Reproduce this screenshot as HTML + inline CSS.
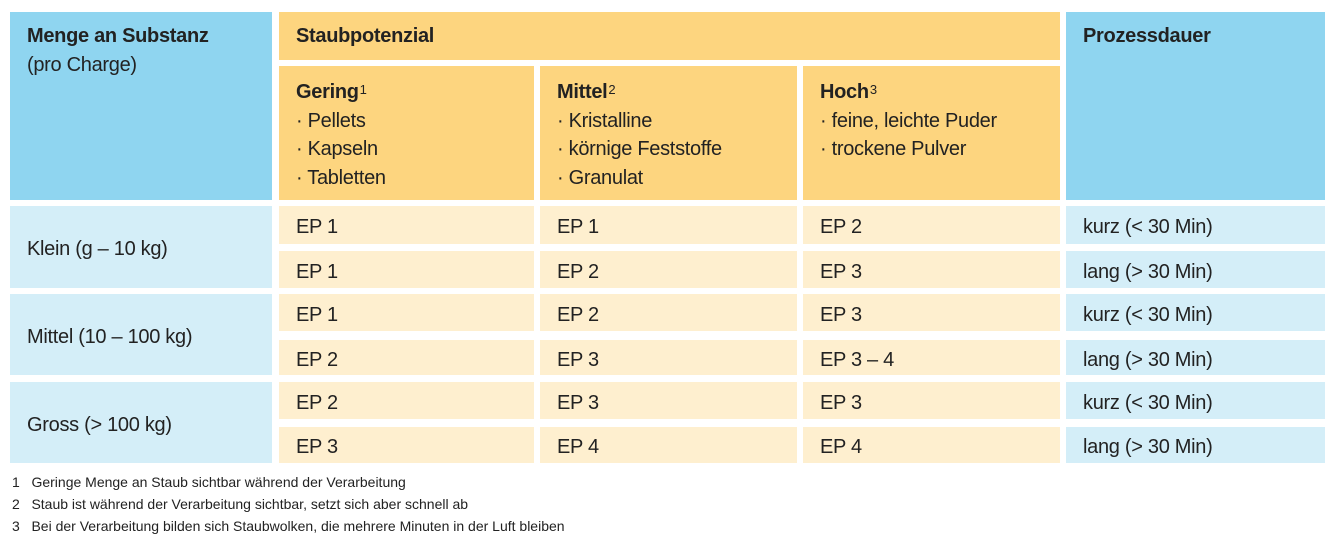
<!DOCTYPE html>
<html><head><meta charset="utf-8"><style>
body{margin:0;width:1332px;height:545px;background:#fff;position:relative;font-family:"Liberation Sans",Arial,sans-serif;color:#222;overflow:hidden}
.c{position:absolute;box-sizing:border-box;padding-left:17px;font-size:20px;letter-spacing:-0.3px}
.hb{background:#8fd5f0}.lb{background:#d4eef8}.ho{background:#fdd57f}.lo{background:#feefcf}
.v{display:flex;align-items:center;padding-top:5px}
b{font-weight:bold}
sup{font-size:13px;vertical-align:top;position:relative;top:-2px;margin-left:1px}
.h{line-height:28.5px;padding-top:12px}
.f{position:absolute;left:12px;font-size:14px;color:#222}
</style></head><body>
<div class="c hb" style="left:10px;top:12px;width:262px;height:188px;padding-top:10px;line-height:29px"><b>Menge an Substanz</b><br>(pro Charge)</div>
<div class="c ho" style="left:279px;top:12px;width:781px;height:48px;padding-top:10px;line-height:29px"><b>Staubpotenzial</b></div>
<div class="c hb" style="left:1066px;top:12px;width:259px;height:188px;padding-top:10px;line-height:29px"><b>Prozessdauer</b></div>
<div class="c ho h" style="left:279px;top:66px;width:255px;height:134px"><b>Gering</b><sup>1</sup><br>· Pellets<br>· Kapseln<br>· Tabletten</div>
<div class="c ho h" style="left:540px;top:66px;width:257px;height:134px"><b>Mittel</b><sup>2</sup><br>· Kristalline<br>· körnige Feststoffe<br>· Granulat</div>
<div class="c ho h" style="left:803px;top:66px;width:257px;height:134px"><b>Hoch</b><sup>3</sup><br>· feine, leichte Puder<br>· trockene Pulver</div>

<div class="c lb v" style="left:10px;top:206px;width:262px;height:82px">Klein (g – 10 kg)</div>
<div class="c lb v" style="left:10px;top:294px;width:262px;height:81px">Mittel (10 – 100 kg)</div>
<div class="c lb v" style="left:10px;top:382px;width:262px;height:81px">Gross (&gt; 100 kg)</div>

<div class="c lo v" style="left:279px;top:206px;width:255px;height:38px">EP 1</div>
<div class="c lo v" style="left:540px;top:206px;width:257px;height:38px">EP 1</div>
<div class="c lo v" style="left:803px;top:206px;width:257px;height:38px">EP 2</div>
<div class="c lb v" style="left:1066px;top:206px;width:259px;height:38px">kurz (&lt; 30 Min)</div>

<div class="c lo v" style="left:279px;top:251px;width:255px;height:37px">EP 1</div>
<div class="c lo v" style="left:540px;top:251px;width:257px;height:37px">EP 2</div>
<div class="c lo v" style="left:803px;top:251px;width:257px;height:37px">EP 3</div>
<div class="c lb v" style="left:1066px;top:251px;width:259px;height:37px">lang (&gt; 30 Min)</div>

<div class="c lo v" style="left:279px;top:294px;width:255px;height:37px">EP 1</div>
<div class="c lo v" style="left:540px;top:294px;width:257px;height:37px">EP 2</div>
<div class="c lo v" style="left:803px;top:294px;width:257px;height:37px">EP 3</div>
<div class="c lb v" style="left:1066px;top:294px;width:259px;height:37px">kurz (&lt; 30 Min)</div>

<div class="c lo v" style="left:279px;top:340px;width:255px;height:35px">EP 2</div>
<div class="c lo v" style="left:540px;top:340px;width:257px;height:35px">EP 3</div>
<div class="c lo v" style="left:803px;top:340px;width:257px;height:35px">EP 3 – 4</div>
<div class="c lb v" style="left:1066px;top:340px;width:259px;height:35px">lang (&gt; 30 Min)</div>

<div class="c lo v" style="left:279px;top:382px;width:255px;height:37px">EP 2</div>
<div class="c lo v" style="left:540px;top:382px;width:257px;height:37px">EP 3</div>
<div class="c lo v" style="left:803px;top:382px;width:257px;height:37px">EP 3</div>
<div class="c lb v" style="left:1066px;top:382px;width:259px;height:37px">kurz (&lt; 30 Min)</div>

<div class="c lo v" style="left:279px;top:427px;width:255px;height:36px">EP 3</div>
<div class="c lo v" style="left:540px;top:427px;width:257px;height:36px">EP 4</div>
<div class="c lo v" style="left:803px;top:427px;width:257px;height:36px">EP 4</div>
<div class="c lb v" style="left:1066px;top:427px;width:259px;height:36px">lang (&gt; 30 Min)</div>

<div class="f" style="top:474px">1&nbsp;&nbsp;&nbsp;Geringe Menge an Staub sichtbar während der Verarbeitung</div>
<div class="f" style="top:496px">2&nbsp;&nbsp;&nbsp;Staub ist während der Verarbeitung sichtbar, setzt sich aber schnell ab</div>
<div class="f" style="top:518px">3&nbsp;&nbsp;&nbsp;Bei der Verarbeitung bilden sich Staubwolken, die mehrere Minuten in der Luft bleiben</div>
</body></html>
